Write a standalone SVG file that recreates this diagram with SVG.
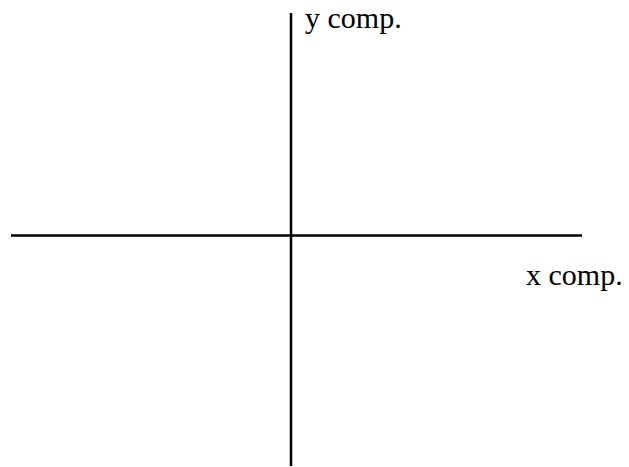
<svg xmlns="http://www.w3.org/2000/svg" width="629" height="467" viewBox="0 0 629 467">
<style>
.axis{stroke:#000;stroke-width:2.5;fill:none}
</style>
<rect width="629" height="467" fill="#fff"/>
<g id="axes">
<line class="axis" x1="291" y1="13" x2="291" y2="466"/>
<line class="axis" x1="11" y1="235.5" x2="582" y2="235.5"/>
</g>
<g id="labels">
<text font-family="Liberation Serif, Times New Roman, Times, serif" font-size="30" fill="#000" x="305" y="28">y comp.</text>
<text font-family="Liberation Serif, Times New Roman, Times, serif" font-size="30" fill="#000" x="526" y="285">x comp.</text>
</g>
</svg>
